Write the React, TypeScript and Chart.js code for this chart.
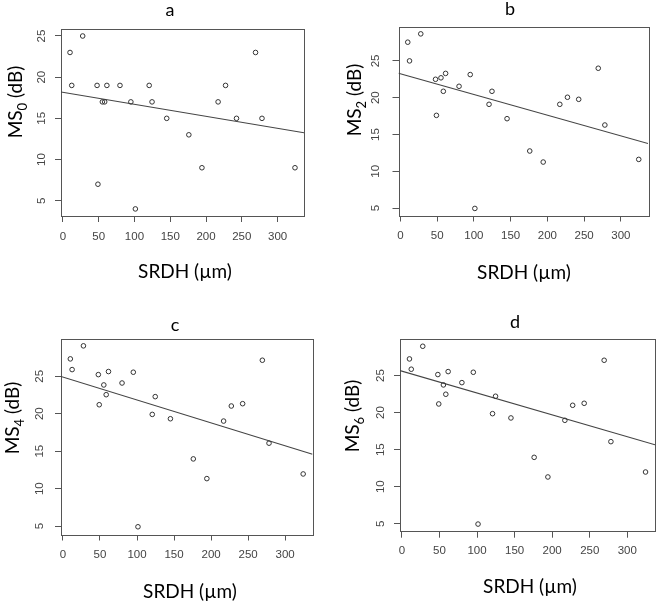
import React, { useEffect, useRef } from "react";
import { Chart, registerables } from "chart.js";

Chart.register(...registerables);

// ---- data ----
const srdh = [10, 12.4, 27.7, 47.8, 49, 55.2, 58.4, 61.5, 79.8, 95, 101.3, 120.6, 124.6, 145.1, 176, 194.3, 216.9, 227.3, 242.6, 269.2, 278.2, 324.3];
const ms0 = [23, 19, 25, 19, 7, 17, 17, 19, 19, 17, 4, 19, 17, 15, 13, 9, 17, 19, 15, 23, 15, 9];
const ms2 = [27.54, 25.0, 28.67, 22.5, 17.6, 22.7, 20.87, 23.3, 21.55, 23.14, 4.96, 19.1, 20.87, 17.15, 12.76, 11.26, 19.1, 20.06, 19.78, 24.0, 16.29, 11.62];
const ms4 = [27.32, 25.89, 29.06, 25.22, 21.2, 23.84, 22.54, 25.63, 24.1, 25.54, 4.91, 19.91, 22.28, 19.33, 13.97, 11.34, 19.02, 21.03, 21.34, 27.14, 16.07, 11.96];
const ms6 = [27.25, 25.86, 28.96, 25.14, 21.17, 23.74, 22.48, 25.54, 24.05, 25.45, 4.95, 19.86, 22.21, 19.28, 13.96, 11.31, 18.96, 20.99, 21.26, 27.07, 16.08, 11.98];
const seriesY = [ms0, ms2, ms4, ms6];

const panelLetters = ["a", "b", "c", "d"];
const subscripts = ["0", "2", "4", "6"];
const xTitle = "SRDH (\u00B5m)";
const yTitleMain = "MS";
const yTitleUnit = " (dB)";

const intercepts = [18.17, 23.25, 24.9, 25.6];
const slopes = [-0.0146, -0.0281, -0.0306, -0.0295];

const xTicks = [0, 50, 100, 150, 200, 250, 300];
const yTicks = [5, 10, 15, 20, 25];
const xRange = [-2.6, 336.9];
const yMins = [3.14, 4.0, 3.88, 3.92];
const yMaxs = [25.85, 29.67, 30.04, 29.9];

// ---- layout (positions only) ----
const panels = [
  { left: 0, top: 0, w: 330, h: 300, area: { l: 61, t: 29, r: 304, b: 216 }, title: [170, 10], xlab: [185, 272], ylab: [15, 102], yPad: 6.6, xPad: 7.5 },
  { left: 330, top: 0, w: 330, h: 300, area: { l: 68.5, t: 26.5, r: 318, b: 215.5 }, title: [180, 9.5], xlab: [194, 273], ylab: [24, 100], yPad: 10.6, xPad: 7.5 },
  { left: 0, top: 300, w: 330, h: 301, area: { l: 61, t: 38.5, r: 312.5, b: 234.5 }, title: [175, 25], xlab: [190, 291.7], ylab: [12.5, 118], yPad: 8.3, xPad: 7.5 },
  { left: 330, top: 300, w: 330, h: 301, area: { l: 70, t: 39.3, r: 328, b: 231.7 }, title: [185, 21.7], xlab: [200, 287], ylab: [22.5, 116], yPad: 6.9, xPad: 6.5 },
];

const TEXT_FONT = "Lato, 'Open Sans', sans-serif";
const TICK_FONT = "'Liberation Sans', Arial, sans-serif";

const decorPlugin = {
  id: "decor",
  beforeDatasetsDraw(chart: any) {
    const { ctx, chartArea } = chart;
    const { left, top, right, bottom } = chartArea;
    ctx.save();
    ctx.strokeStyle = "#555";
    ctx.lineWidth = 1;
    ctx.strokeRect(Math.round(left) + 0.5, Math.round(top) + 0.5, Math.round(right - left), Math.round(bottom - top));
    ctx.restore();
  },
  afterDraw(chart: any, _args: any, opts: any) {
    const { ctx } = chart;
    ctx.save();
    ctx.fillStyle = "#000";
    // panel letter
    ctx.font = `18px ${TEXT_FONT}`;
    ctx.textAlign = "center";
    ctx.textBaseline = "middle";
    ctx.fillText(opts.letter, opts.title[0], opts.title[1]);
    // x title
    ctx.font = `19px ${TEXT_FONT}`;
    ctx.fillText(opts.xTitle, opts.xlab[0], opts.xlab[1]);
    // y title with subscript, rotated
    ctx.translate(opts.ylab[0], opts.ylab[1]);
    ctx.rotate(-Math.PI / 2);
    ctx.textAlign = "left";
    ctx.textBaseline = "alphabetic";
    const mainFont = `19px ${TEXT_FONT}`;
    const subFont = `13px ${TEXT_FONT}`;
    ctx.font = mainFont;
    const w1 = ctx.measureText(opts.yMain).width;
    const w3 = ctx.measureText(opts.yUnit).width;
    ctx.font = subFont;
    const w2 = ctx.measureText(opts.sub).width;
    const total = w1 + w2 + w3;
    let x = -total / 2;
    const base = 6.8;
    ctx.font = mainFont;
    ctx.fillText(opts.yMain, x, base);
    x += w1;
    ctx.font = subFont;
    ctx.fillText(opts.sub, x, base + 5);
    x += w2;
    ctx.font = mainFont;
    ctx.fillText(opts.yUnit, x, base);
    ctx.restore();
  },
};

function Panel({ idx }: { idx: number }) {
  const ref = useRef<HTMLCanvasElement | null>(null);
  const p = panels[idx];
  useEffect(() => {
    if (!ref.current) return;
    const ys = seriesY[idx];
    const a = intercepts[idx];
    const b = slopes[idx];
    const chart = new Chart(ref.current, {
      type: "scatter",
      data: {
        datasets: [
          {
            type: "scatter",
            data: srdh.map((x, i) => ({ x, y: ys[i] })),
            pointStyle: "circle",
            pointRadius: 2.3,
            borderWidth: 1,
            borderColor: "#333",
            backgroundColor: "rgba(0,0,0,0)",
          } as any,
          {
            type: "line",
            data: xRange.map((x) => ({ x, y: a + b * x })),
            borderColor: "#444",
            borderWidth: 1.1,
            pointRadius: 0,
            fill: false,
            tension: 0,
          } as any,
        ],
      },
      options: {
        responsive: false,
        animation: false,
        devicePixelRatio: 1,
        events: [],
        layout: { padding: { left: 0, top: p.area.t, right: p.w - p.area.r, bottom: 0 } },
        plugins: {
          legend: { display: false },
          tooltip: { enabled: false },
          title: { display: false },
          decor: {
            letter: panelLetters[idx],
            sub: subscripts[idx],
            yMain: yTitleMain,
            yUnit: yTitleUnit,
            xTitle: xTitle,
            title: p.title,
            xlab: p.xlab,
            ylab: p.ylab,
          },
        } as any,
        scales: {
          x: {
            type: "linear",
            min: xRange[0],
            max: xRange[1],
            afterBuildTicks: (s: any) => {
              s.ticks = xTicks.map((v) => ({ value: v }));
            },
            afterFit: (s: any) => {
              s.height = p.h - p.area.b;
            },
            grid: { display: true, drawOnChartArea: false, drawTicks: true, tickLength: 6, color: "#555", lineWidth: 1 },
            border: { display: false },
            ticks: {
              font: { family: TICK_FONT, size: 11.5 },
              color: "#444",
              padding: p.xPad,
              maxRotation: 0,
              minRotation: 0,
              autoSkip: false,
            },
          },
          y: {
            type: "linear",
            min: yMins[idx],
            max: yMaxs[idx],
            afterBuildTicks: (s: any) => {
              s.ticks = yTicks.map((v) => ({ value: v }));
            },
            afterFit: (s: any) => {
              s.width = p.area.l;
            },
            grid: { display: true, drawOnChartArea: false, drawTicks: true, tickLength: 6, color: "#555", lineWidth: 1 },
            border: { display: false },
            ticks: {
              font: { family: TICK_FONT, size: 11.5 },
              color: "#444",
              padding: p.yPad,
              minRotation: 90,
              maxRotation: 90,
              crossAlign: "center",
              autoSkip: false,
            },
          },
        },
      },
      plugins: [decorPlugin as any],
    });
    return () => chart.destroy();
  }, [idx]);
  return (
    <canvas
      ref={ref}
      width={p.w}
      height={p.h}
      style={{ position: "absolute", left: p.left, top: p.top, width: p.w, height: p.h }}
    />
  );
}

export default function App() {
  return (
    <div style={{ position: "absolute", left: 0, top: 0, width: 660, height: 601, background: "#fff" }}>
      {[0, 1, 2, 3].map((i) => (
        <Panel key={i} idx={i} />
      ))}
    </div>
  );
}
